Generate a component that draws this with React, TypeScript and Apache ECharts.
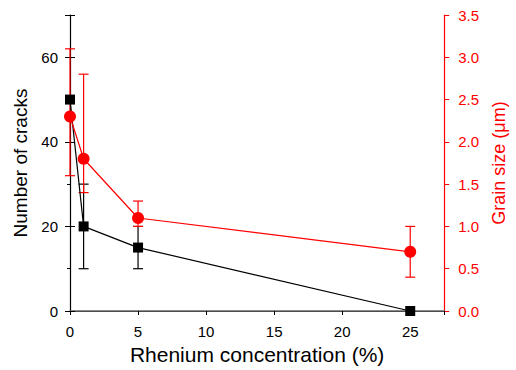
import React, { useEffect, useRef } from "react";
import * as echarts from "echarts";

const concentration = [0, 1, 5, 25];
const cracks = [50, 20, 15, 0];
const cracksLow = [null, 10, 10, null];
const cracksHigh = [null, 30, 20, null];
const grain = [2.3, 1.8, 1.1, 0.7];
const grainLow = [1.6, 1.4, 1.0, 0.4];
const grainHigh = [3.1, 2.8, 1.3, 1.0];

const RED = "#ff0000";
const FONT = "Liberation Sans, Arial, sans-serif";

function errData(low: (number | null)[], high: (number | null)[]) {
  const out: number[][] = [];
  concentration.forEach((x, i) => {
    if (low[i] != null && high[i] != null) out.push([x, low[i] as number, high[i] as number]);
  });
  return out;
}

function errRender(color: string) {
  return (params: any, api: any) => {
    const x = api.value(0);
    const lo = api.coord([x, api.value(1)]);
    const hi = api.coord([x, api.value(2)]);
    const w = 5;
    const style = { stroke: color, lineWidth: 1.2 };
    return {
      type: "group",
      children: [
        { type: "line", shape: { x1: lo[0], y1: lo[1], x2: hi[0], y2: hi[1] }, style },
        { type: "line", shape: { x1: lo[0] - w, y1: lo[1], x2: lo[0] + w, y2: lo[1] }, style },
        { type: "line", shape: { x1: hi[0] - w, y1: hi[1], x2: hi[0] + w, y2: hi[1] }, style },
      ],
    };
  };
}

export default function App() {
  const ref = useRef<HTMLDivElement>(null);
  useEffect(() => {
    const chart = echarts.init(ref.current!, null, { renderer: "svg" });
    chart.setOption({
      animation: false,
      backgroundColor: "#fff",
      grid: { left: 70, right: 68, top: 15, bottom: 56 },
      xAxis: [
        {
          type: "value",
          min: 0,
          max: 27.5,
          interval: 5,
          name: "Rhenium concentration (%)",
          nameLocation: "middle",
          nameGap: 33,
          nameTextStyle: { fontFamily: FONT, fontSize: 21, color: "#000" },
          axisLine: { onZero: false, lineStyle: { color: "#000", width: 1.2 } },
          axisTick: { show: true, length: 4, lineStyle: { color: "#000" } },
          axisLabel: {
            fontFamily: FONT,
            fontSize: 15,
            color: "#000",
            margin: 13,
            formatter: (v: number) => (v > 25 ? "" : String(v)),
          },
          splitLine: { show: false },
        },
        {
          type: "value",
          position: "top",
          min: 0,
          max: 27.5,
          axisLine: { show: true, lineStyle: { color: "#666", width: 1.5 } },
          axisTick: { show: false },
          axisLabel: { show: false },
          splitLine: { show: false },
        },
      ],
      yAxis: [
        {
          type: "value",
          min: 0,
          max: 70,
          interval: 20,
          name: "Number of cracks",
          nameLocation: "middle",
          nameGap: 38,
          nameTextStyle: { fontFamily: FONT, fontSize: 19, color: "#000" },
          axisLine: { show: true, onZero: false, lineStyle: { color: "#000", width: 1.2 } },
          axisTick: { show: true, length: 5, lineStyle: { color: "#000" } },
          minorTick: { show: true, splitNumber: 2, length: 3, lineStyle: { color: "#000" } },
          axisLabel: {
            fontFamily: FONT,
            fontSize: 15,
            color: "#000",
            margin: 12,
            formatter: (v: number) => (v > 60 ? "" : String(v)),
          },
          splitLine: { show: false },
        },
        {
          type: "value",
          min: 0,
          max: 3.5,
          interval: 0.5,
          position: "right",
          name: "Grain size (μm)",
          nameLocation: "middle",
          nameGap: 45,
          nameRotate: 90,
          nameTextStyle: { fontFamily: FONT, fontSize: 18, color: RED },
          axisLine: { show: true, onZero: false, lineStyle: { color: RED, width: 1.2 } },
          axisTick: { show: true, length: 5, lineStyle: { color: RED } },
          axisLabel: {
            fontFamily: FONT,
            fontSize: 15,
            color: RED,
            margin: 14,
            formatter: (v: number) => v.toFixed(1),
          },
          splitLine: { show: false },
        },
        {
          type: "value",
          min: 0,
          max: 70,
          interval: 20,
          position: "left",
          axisLine: { show: false },
          axisTick: { show: true, inside: true, length: 5, lineStyle: { color: "#000" } },
          axisLabel: { show: false },
          splitLine: { show: false },
        },
      ],
      series: [
        {
          type: "custom",
          xAxisIndex: 0,
          yAxisIndex: 0,
          renderItem: errRender("#000"),
          data: errData(cracksLow, cracksHigh),
          z: 2,
        },
        {
          type: "custom",
          xAxisIndex: 0,
          yAxisIndex: 1,
          renderItem: errRender(RED),
          data: errData(grainLow, grainHigh),
          z: 2,
        },
        {
          type: "line",
          xAxisIndex: 0,
          yAxisIndex: 0,
          data: concentration.map((x, i) => [x, cracks[i]]),
          symbol: "rect",
          symbolSize: 10,
          itemStyle: { color: "#000" },
          lineStyle: { color: "#000", width: 1.2 },
          z: 3,
        },
        {
          type: "line",
          xAxisIndex: 0,
          yAxisIndex: 1,
          data: concentration.map((x, i) => [x, grain[i]]),
          symbol: "circle",
          symbolSize: 12,
          itemStyle: { color: RED },
          lineStyle: { color: RED, width: 1.2 },
          z: 4,
        },
      ],
    });
    return () => chart.dispose();
  }, []);
  return (
    <div
      ref={ref}
      style={{ position: "absolute", left: 0, top: 0, width: 516, height: 370 }}
    />
  );
}
